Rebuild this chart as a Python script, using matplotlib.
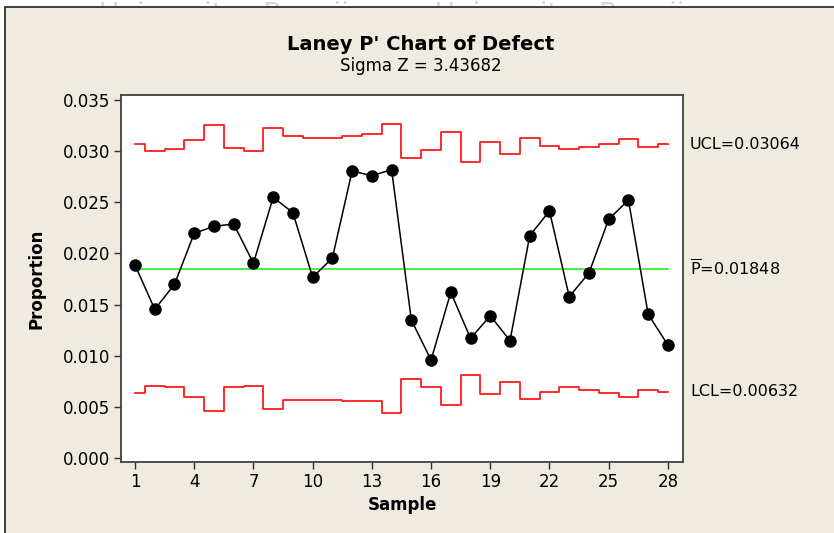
import matplotlib
matplotlib.use("Agg")
import matplotlib.pyplot as plt
from matplotlib.patches import Rectangle
import matplotlib.transforms as mtransforms

samples = list(range(1, 29))
proportion = [0.01887, 0.01454, 0.01698, 0.02197, 0.02265, 0.02288, 0.01904,
              0.02549, 0.02398, 0.01767, 0.01955, 0.02806, 0.02760, 0.02819,
              0.01349, 0.00958, 0.01620, 0.01170, 0.01391, 0.01147, 0.02174,
              0.02415, 0.01577, 0.01809, 0.02334, 0.02522, 0.01405, 0.01105]
ucl = [0.03067, 0.03002, 0.03024, 0.03109, 0.03259, 0.03028, 0.03002,
       0.03226, 0.03148, 0.03132, 0.03132, 0.03148, 0.03165, 0.03268,
       0.02933, 0.03011, 0.03187, 0.02897, 0.03093, 0.02975, 0.03132,
       0.03054, 0.03024, 0.03038, 0.03070, 0.03119, 0.03041, 0.03067]
lcl = [0.00636, 0.00704, 0.00691, 0.00596, 0.00460, 0.00691, 0.00704,
       0.00479, 0.00570, 0.00570, 0.00570, 0.00557, 0.00557, 0.00437,
       0.00775, 0.00691, 0.00515, 0.00811, 0.00626, 0.00746, 0.00574,
       0.00648, 0.00691, 0.00668, 0.00638, 0.00596, 0.00668, 0.00648]
p_bar = 0.01848
ucl_label = "UCL=0.03064"
lcl_label = "LCL=0.00632"
center_label = r"$\overline{\mathrm{P}}$=0.01848"
x_ticks = list(range(1, 29, 3))
y_ticks = [0.000, 0.005, 0.010, 0.015, 0.020, 0.025, 0.030, 0.035]

plt.rcParams["font.family"] = "DejaVu Sans"
plt.rcParams["mathtext.fontset"] = "dejavusans"

bg = "#efebe1"
fig = plt.figure(figsize=(8.34, 5.33), dpi=100, facecolor="white")

# faint watermark, mostly hidden behind the panel
fig.text(0.5, 0.999, "Universitas Brawijaya    Universitas Brawijaya",
         ha="center", va="top", fontsize=20, color="#d6d6d6", zorder=-2)
# beige panel with a thin dark frame
fig.add_artist(Rectangle((5 / 834, -0.01), 1.0, 1.0 - 7 / 533 + 0.01,
                         transform=fig.transFigure, facecolor=bg,
                         edgecolor="#202020", linewidth=1.2, zorder=-1))

ax = fig.add_axes([121 / 834, 71.3 / 533, 562.3 / 834, 366.7 / 533])
ax.set_facecolor("white")

ax.step(samples, ucl, where="mid", color="#ff1a1a", linewidth=1.3, zorder=2)
ax.step(samples, lcl, where="mid", color="#ff1a1a", linewidth=1.3, zorder=2)
ax.plot([samples[0], samples[-1]], [p_bar, p_bar], color="#22ee22",
        linewidth=1.2, zorder=2)
ax.plot(samples, proportion, color="black", linewidth=1.1, marker="o",
        markersize=8, zorder=3)

ax.set_xlim(0.29, 28.78)
ax.set_ylim(-0.00036, 0.03549)
ax.set_xticks(x_ticks)
ax.set_yticks(y_ticks)
ax.set_yticklabels([f"{v:.3f}" for v in y_ticks])
ax.tick_params(direction="out", length=5, width=1, colors="#303030",
               labelsize=12, labelcolor="black", pad=3)
for s in ax.spines.values():
    s.set_color("#404040")
    s.set_linewidth(1.3)

trans = mtransforms.blended_transform_factory(ax.transAxes, ax.transData)
ax.text(1.012, ucl[-1], ucl_label, transform=trans, va="center", ha="left",
        fontsize=11.5, clip_on=False)
ax.text(1.012, p_bar, center_label, transform=trans, va="center", ha="left",
        fontsize=11.5, clip_on=False)
ax.text(1.012, lcl[-1], lcl_label, transform=trans, va="center", ha="left",
        fontsize=11.5, clip_on=False)

ax.set_xlabel("Sample", fontsize=12, fontweight="bold", labelpad=4)
ax.set_ylabel("Proportion", fontsize=12, fontweight="bold", labelpad=12)

fig.text(0.505, 1 - 44 / 533, "Laney P' Chart of Defect", ha="center",
         va="center", fontsize=14, fontweight="bold")
fig.text(0.505, 1 - 66 / 533, "Sigma Z = 3.43682", ha="center",
         va="center", fontsize=12)

fig.savefig("out.png", dpi=100, facecolor=fig.get_facecolor())
